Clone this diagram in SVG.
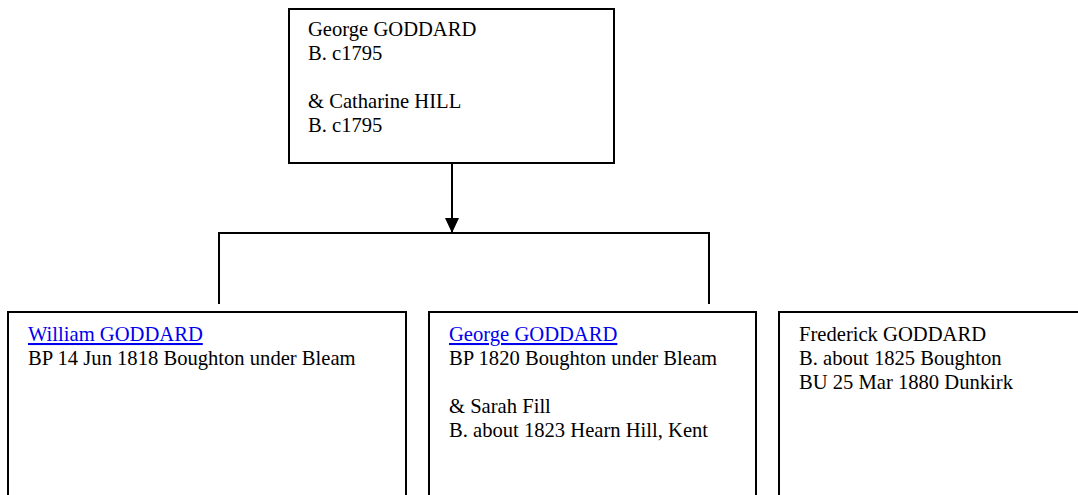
<svg xmlns="http://www.w3.org/2000/svg" width="1078" height="495" viewBox="0 0 1078 495">
<style>
.box{fill:#fff;stroke:#000;stroke-width:2}
.t{font-family:"Liberation Serif","Times New Roman",serif;font-size:20.6px;fill:#000}
.link{fill:#0000ee;text-decoration:underline}
.con{stroke:#000;stroke-width:2;fill:none}
</style>
<defs>
<marker id="arr" viewBox="0 0 15 14" refX="15" refY="7" markerWidth="15" markerHeight="14" markerUnits="userSpaceOnUse" orient="auto">
<path d="M0,0 L15,7 L0,14 Z" fill="#000"/>
</marker>
</defs>
<rect width="1078" height="495" fill="#fff"/>
<g id="connectors">
<line class="con" x1="452" y1="163" x2="452" y2="233" marker-end="url(#arr)"/>
<path class="con" d="M219,304 V233 H709 V304"/>
</g>
<g id="parents">
<rect class="box" x="289" y="9" width="325" height="154"/>
<text class="t" x="308" y="36">George GODDARD</text>
<text class="t" x="308" y="60">B. c1795</text>
<text class="t" x="308" y="108">&amp; Catharine HILL</text>
<text class="t" x="308" y="132">B. c1795</text>
</g>
<g id="william">
<rect class="box" x="8" y="312" width="398" height="200"/>
<text class="t link" x="28" y="341">William GODDARD</text>
<text class="t" x="28" y="365">BP 14 Jun 1818 Boughton under Bleam</text>
</g>
<g id="george">
<rect class="box" x="429" y="312" width="327" height="200"/>
<text class="t link" x="449" y="341">George GODDARD</text>
<text class="t" x="449" y="365">BP 1820 Boughton under Bleam</text>
<text class="t" x="449" y="413">&amp; Sarah Fill</text>
<text class="t" x="449" y="437">B. about 1823 Hearn Hill, Kent</text>
</g>
<g id="frederick">
<rect class="box" x="779" y="312" width="320" height="200"/>
<text class="t" x="799" y="341">Frederick GODDARD</text>
<text class="t" x="799" y="365">B. about 1825 Boughton</text>
<text class="t" x="799" y="389">BU 25 Mar 1880 Dunkirk</text>
</g>
</svg>
